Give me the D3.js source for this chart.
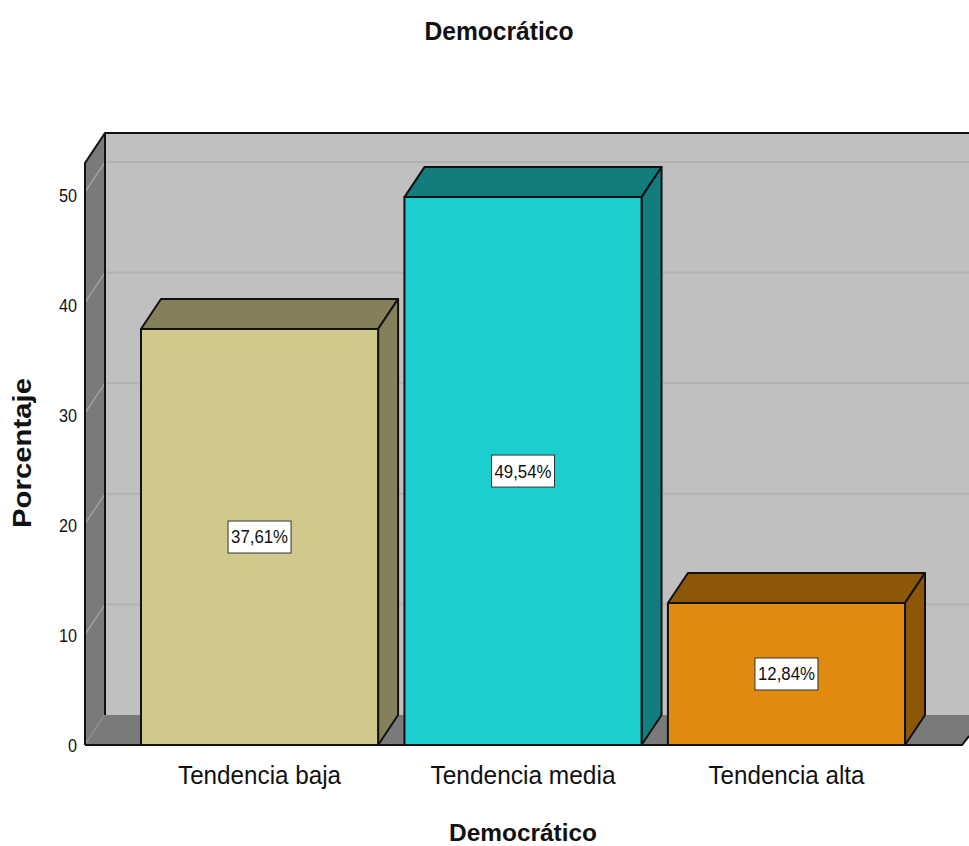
<!DOCTYPE html>
<html><head><meta charset="utf-8">
<script src="https://cdnjs.cloudflare.com/ajax/libs/d3/7.8.5/d3.min.js"></script>
<style>html,body{margin:0;padding:0;background:#fff}svg{display:block}text{font-family:"Liberation Sans",Arial,sans-serif;fill:#111}</style>
</head><body><svg id="c" width="969" height="846"></svg>
<script>
const categories = ["Tendencia baja","Tendencia media","Tendencia alta"];
const values = [37.61,49.54,12.84];
const valueLabels = ["37,61%","49,54%","12,84%"];
const frontColors = ["#cfca8c","#1bcfcf","#e08a10"];
const sideColors = ["#85805a","#127d7d","#8c5708"];
const yTicks = [0,10,20,30,40,50];
const title = "Democrático", xTitle = "Democrático", yTitle = "Porcentaje";

const W=969,H=846,dx=20,dy=-30;
const svg=d3.select("#c");
const y=d3.scaleLinear().domain([0,50]).range([745,192]);
const yLabel=d3.scaleLinear().domain([0,50]).range([745,195]);
const x=d3.scaleBand().domain(categories).range([126.5,919.5]).paddingInner(0.1).paddingOuter(0.055);
const x0=85, yTop=163, y0=y(0);
const line=d3.line();

// back wall
svg.append("rect").attr("x",x0+dx).attr("y",yTop+dy).attr("width",W-x0-dx).attr("height",y0-yTop).attr("fill","#c0c0c0");
// back gridlines
svg.append("g").selectAll("line").data(yTicks.slice(1)).join("line")
 .attr("x1",x0+dx).attr("x2",W).attr("y1",d=>y(d)+dy).attr("y2",d=>y(d)+dy)
 .attr("stroke","#b2b2b2").attr("stroke-width",2);
// left wall
svg.append("path").attr("d",line([[x0,yTop],[x0+dx,yTop+dy],[x0+dx,y0+dy],[x0,y0]])).attr("fill","#7a7a7a");
svg.append("g").selectAll("line").data(yTicks).join("line")
 .attr("x1",x0).attr("x2",x0+dx).attr("y1",d=>y(d)).attr("y2",d=>y(d)+dy)
 .attr("stroke","#a0a0a0").attr("stroke-width",1.5);
// floor
svg.append("path").attr("d",line([[x0,y0],[x0+dx,y0+dy],[W,y0+dy],[W,y0-9],[962,y0]])).attr("fill","#7a7a7a");
// frame lines
const frame=svg.append("g").attr("fill","none").attr("stroke","#111").attr("stroke-width",2);
frame.append("path").attr("d",line([[x0,y0],[x0,yTop],[x0+dx,yTop+dy],[W,yTop+dy]]));
frame.append("path").attr("d",line([[x0+dx,yTop+dy],[x0+dx,y0+dy]]));
frame.append("path").attr("d",line([[x0,y0],[962,y0],[W,y0-9]]));

// bars
const bars=svg.append("g").selectAll("g").data(categories).join("g");
bars.each(function(c,i){
  const g=d3.select(this),l=x(c),r=l+x.bandwidth(),t=y(values[i]);
  const st={stroke:"#111","stroke-width":2,"stroke-linejoin":"round"};
  const add=(pts,f)=>{const p=g.append("path").attr("d",line(pts)+"Z").attr("fill",f);for(const k in st)p.attr(k,st[k]);};
  add([[l,t],[l+dx,t+dy],[r+dx,t+dy],[r,t]],sideColors[i]);
  add([[r,t],[r+dx,t+dy],[r+dx,y0+dy],[r,y0]],sideColors[i]);
  add([[l,t],[r,t],[r,y0],[l,y0]],frontColors[i]);
  const cx=(l+r)/2, cy=(t+y0)/2;
  g.append("rect").attr("x",cx-31.5).attr("y",cy-16).attr("width",63).attr("height",32)
   .attr("fill","#fff").attr("stroke","#333").attr("stroke-width",1);
  g.append("text").attr("x",cx).attr("y",cy).attr("dy","0.36em").attr("text-anchor","middle")
   .attr("font-size",18).attr("textLength",57).attr("lengthAdjust","spacingAndGlyphs").text(valueLabels[i]);
});

// y tick labels
svg.append("g").selectAll("text").data(yTicks).join("text")
 .attr("x",77).attr("y",d=>yLabel(d)).attr("dy","0.36em").attr("text-anchor","end")
 .attr("font-size",19).attr("textLength",d=>d===0?9:18).attr("lengthAdjust","spacingAndGlyphs").text(d=>d);
// category labels
const catWidths=[163,185,156];
svg.append("g").selectAll("text").data(categories).join("text")
 .attr("x",d=>x(d)+x.bandwidth()/2).attr("y",775).attr("dy","0.36em").attr("text-anchor","middle")
 .attr("font-size",26).attr("textLength",(d,i)=>catWidths[i]).attr("lengthAdjust","spacingAndGlyphs").text(d=>d);
// titles
const bold=(sel,size)=>sel.attr("font-size",size).attr("font-weight","bold").attr("text-anchor","middle");
bold(svg.append("text").attr("x",499).attr("y",40),25).attr("textLength",149).attr("lengthAdjust","spacingAndGlyphs").text(title);
bold(svg.append("text").attr("x",523).attr("y",841),24).attr("textLength",148).attr("lengthAdjust","spacingAndGlyphs").text(xTitle);
bold(svg.append("text").attr("transform","translate(31,453) rotate(-90)"),25).attr("textLength",150).attr("lengthAdjust","spacingAndGlyphs").text(yTitle);
</script></body></html>
